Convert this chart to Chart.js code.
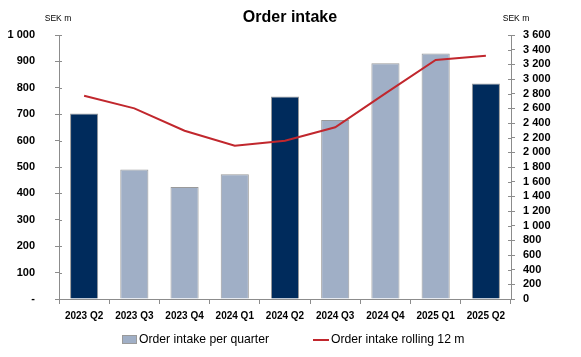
<!DOCTYPE html>
<html>
<head>
<meta charset="utf-8">
<script src="https://cdn.jsdelivr.net/npm/chart.js@4"></script>
<style>
html,body{margin:0;padding:0;background:#fff;}
#wrap{width:581px;height:357px;position:relative;}
</style>
</head>
<body>
<div id="wrap"><canvas id="c" width="581" height="357"></canvas></div>
<script>
const categories = ["2023 Q2","2023 Q3","2023 Q4","2024 Q1","2024 Q2","2024 Q3","2024 Q4","2025 Q1","2025 Q2"];
const orderIntakeQuarter = [703, 491, 424, 473, 767, 678, 893, 930, 816];
const orderIntakeRolling12m = [2772, 2600, 2295, 2091, 2159, 2341, 2805, 3259, 3318];
const highlightQuarters = ["2023 Q2","2024 Q2","2025 Q2"];
const leftTicks = [0,100,200,300,400,500,600,700,800,900,1000];
const rightTicks = [0,200,400,600,800,1000,1200,1400,1600,1800,2000,2200,2400,2600,2800,3000,3200,3400,3600];
const titleText = 'Order intake';
const unitText = 'SEK m';
const legendBar = 'Order intake per quarter';
const legendLine = 'Order intake rolling 12 m';

const DARK = '#002B5C', LIGHT = '#A0AFC6', RED = '#C1272D', AXIS = '#8C8C8C', BORDER = '#9A9A9A';
const fmt = v => { const s = String(v); return s.length > 3 ? s.slice(0, s.length-3) + ' ' + s.slice(-3) : s; };

const extras = {
  id: 'extras',
  afterDraw(chart) {
    const ctx = chart.ctx;
    const y = chart.scales.y, y1 = chart.scales.y1;
    ctx.save();
    // title
    ctx.fillStyle = '#000';
    ctx.textAlign = 'center';
    ctx.textBaseline = 'middle';
    ctx.font = 'bold 16px "Liberation Sans"';
    ctx.fillText(titleText, 290, 18);
    // unit labels
    ctx.font = '8.5px "Liberation Sans"';
    ctx.fillText(unitText, 58, 19);
    ctx.fillText(unitText, 516, 19);
    // inward tick halves
    ctx.strokeStyle = AXIS; ctx.lineWidth = 1;
    ctx.beginPath();
    leftTicks.forEach(v => { const p = Math.round(y.getPixelForValue(v)) + 0.5; ctx.moveTo(y.right, p); ctx.lineTo(y.right + 3, p); });
    rightTicks.forEach(v => { const p = Math.round(y1.getPixelForValue(v)) + 0.5; ctx.moveTo(y1.left, p); ctx.lineTo(y1.left - 3, p); });
    ctx.stroke();
    // legend
    ctx.font = '12.2px "Liberation Sans"';
    ctx.textAlign = 'left';
    ctx.fillStyle = LIGHT;
    ctx.fillRect(122, 335, 15, 9);
    ctx.strokeStyle = BORDER;
    ctx.strokeRect(122.5, 335.5, 14, 8);
    ctx.fillStyle = '#000';
    ctx.fillText(legendBar, 139, 340);
    ctx.strokeStyle = RED; ctx.lineWidth = 2;
    ctx.beginPath(); ctx.moveTo(313, 340); ctx.lineTo(329, 340); ctx.stroke();
    ctx.fillText(legendLine, 331, 340);
    ctx.restore();
  }
};

new Chart(document.getElementById('c'), {
  data: {
    labels: categories,
    datasets: [
      {
        type: 'line', label: legendLine, data: orderIntakeRolling12m, yAxisID: 'y1',
        borderColor: RED, backgroundColor: RED, borderWidth: 2, pointRadius: 0, tension: 0, order: 0
      },
      {
        type: 'bar', label: legendBar, data: orderIntakeQuarter, yAxisID: 'y',
        backgroundColor: categories.map(c => highlightQuarters.includes(c) ? DARK : LIGHT),
        borderColor: BORDER, borderWidth: 1, borderSkipped: 'bottom',
        barPercentage: 0.56, categoryPercentage: 1, order: 1
      }
    ]
  },
  options: {
    responsive: false, animation: false, devicePixelRatio: 1,
    layout: { padding: { left: 0, right: 0, top: 35, bottom: 0 } },
    plugins: {
      title: { display: false },
      tooltip: { enabled: false },
      legend: { display: false }
    },
    scales: {
      x: {
        offset: true,
        afterFit: s => { s.height = 58; },
        grid: { display: true, offset: true, drawOnChartArea: false, drawTicks: true, tickLength: 5, color: AXIS },
        border: { display: true, color: AXIS },
        ticks: { color: '#000', font: { family: 'Liberation Sans', size: 10, weight: 'bold' }, maxRotation: 0, autoSkip: false, padding: 6 }
      },
      y: {
        position: 'left', min: 0, max: 1000,
        afterBuildTicks: s => { s.ticks = leftTicks.map(v => ({ value: v })); },
        afterFit: s => { s.width = 59; },
        grid: { drawOnChartArea: false, drawTicks: true, tickLength: 4, color: AXIS },
        border: { display: true, color: AXIS },
        ticks: { color: '#000', font: { family: 'Liberation Sans', size: 11, weight: 'bold' }, padding: 20, autoSkip: false,
          callback: v => v === 0 ? '-' : fmt(v) }
      },
      y1: {
        position: 'right', min: 0, max: 3600,
        afterBuildTicks: s => { s.ticks = rightTicks.map(v => ({ value: v })); },
        afterFit: s => { s.width = 70; },
        grid: { drawOnChartArea: false, drawTicks: true, tickLength: 4, color: AXIS },
        border: { display: true, color: AXIS },
        ticks: { color: '#000', font: { family: 'Liberation Sans', size: 11, weight: 'bold' }, padding: 8, autoSkip: false,
          callback: v => fmt(v) }
      }
    }
  },
  plugins: [extras]
});
</script>
</body>
</html>
